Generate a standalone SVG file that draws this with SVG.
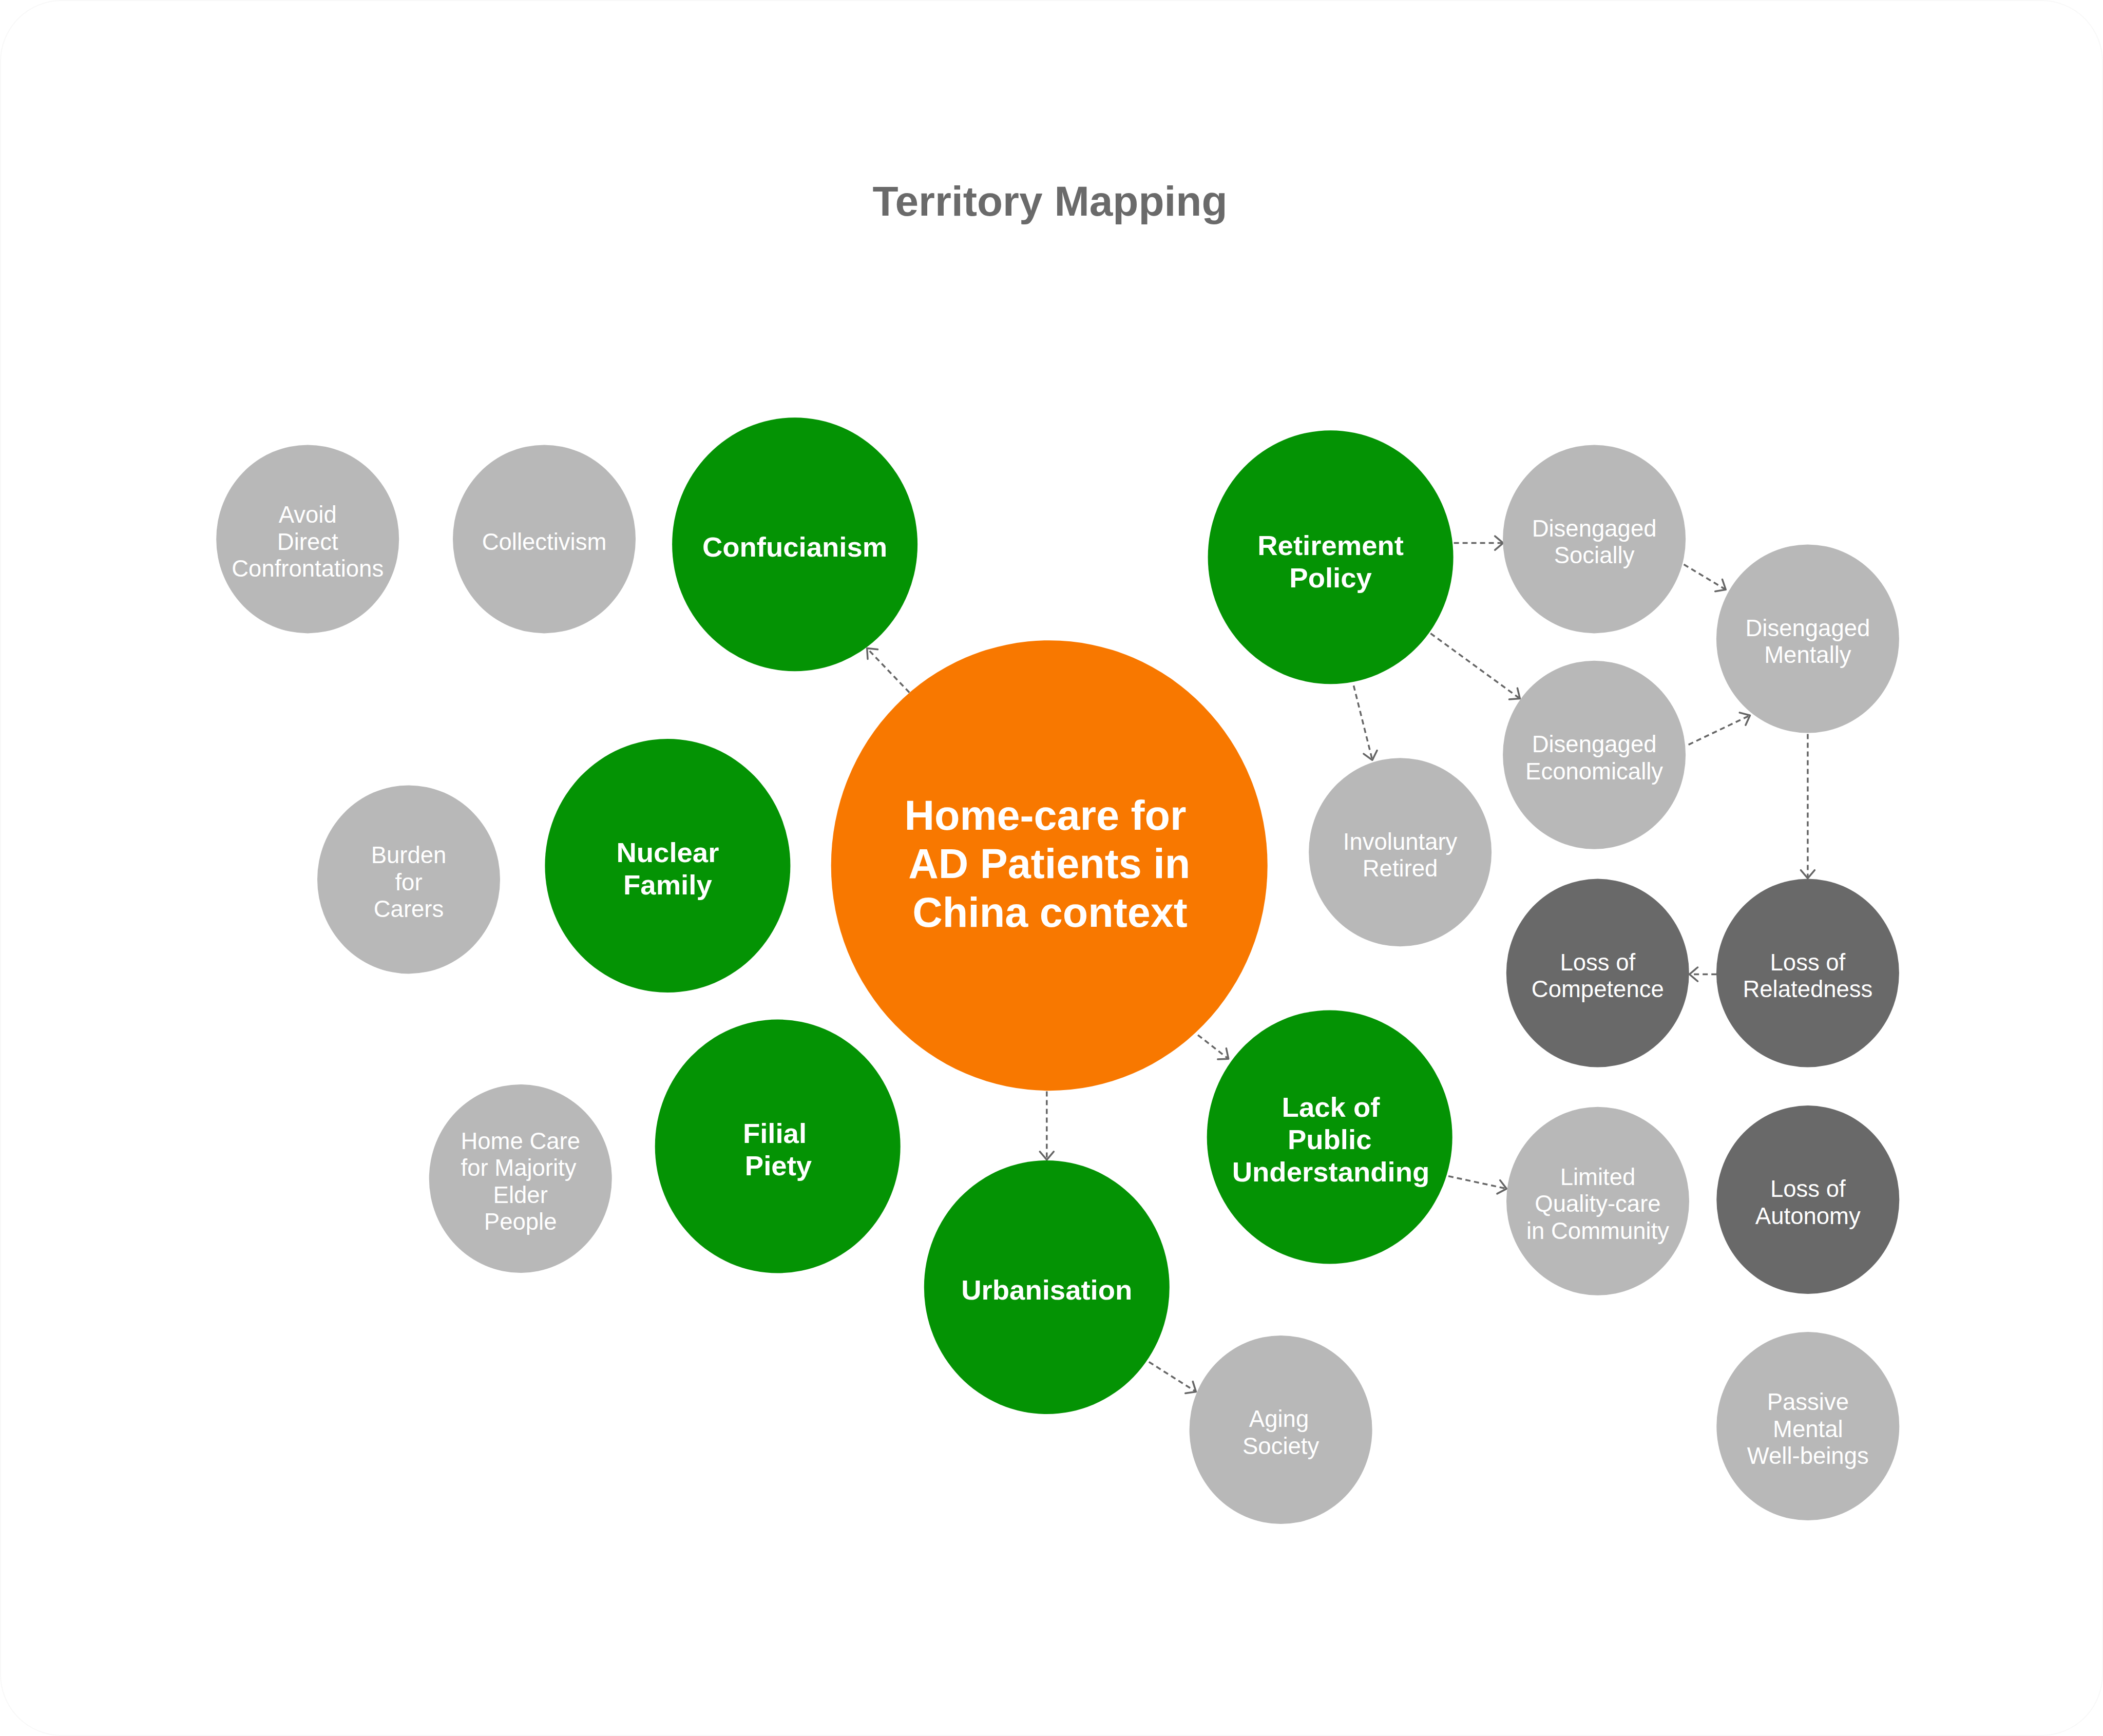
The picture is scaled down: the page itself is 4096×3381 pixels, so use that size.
<svg xmlns="http://www.w3.org/2000/svg" width="4096" height="3381" viewBox="0 0 4096 3381">
<style>
.bg{fill:#ffffff;stroke:#f8f8f8;stroke-width:2}
.title{font-family:"Liberation Sans",Arial,Helvetica,sans-serif;font-weight:bold;font-size:82px;fill:#6a6a6a;text-anchor:middle}
.sm{fill:#b8b8b8}
.dk{fill:#696969}
.gr{fill:#049304}
.or{fill:#f87800}
.ts{font-family:"Liberation Sans",Arial,Helvetica,sans-serif;font-size:45.5px;fill:#ffffff;text-anchor:middle}
.tb{font-family:"Liberation Sans",Arial,Helvetica,sans-serif;font-weight:bold;font-size:54.5px;fill:#ffffff;text-anchor:middle}
.tc{font-family:"Liberation Sans",Arial,Helvetica,sans-serif;font-weight:bold;font-size:81px;fill:#ffffff;text-anchor:middle}
.cn{fill:none;stroke:#666666;stroke-width:3.5;stroke-dasharray:10 7;marker-end:url(#arr)}
</style>
<defs>
<marker id="arr" markerUnits="userSpaceOnUse" markerWidth="40" markerHeight="40" viewBox="-20 -20 40 40" refX="0" refY="0" orient="auto">
<path d="M-16,-13.5 L0,0 L-16,13.5" fill="none" stroke="#666666" stroke-width="3.5" stroke-dasharray="none" stroke-linecap="round" stroke-linejoin="round"/>
</marker>
</defs>
<rect class="bg" x="1" y="1" width="4094" height="3379" rx="119"/>
<text class="title" x="2045" y="420">Territory Mapping</text>

<g id="connectors">
<path class="cn" d="M1771.2,1348.8 L1688.7,1262.6"/>
<path class="cn" d="M2333.1,2015.8 L2392.7,2062.2"/>
<path class="cn" d="M2038.8,2125.5 L2038.8,2258.8"/>
<path class="cn" d="M2831.6,1057.6 L2927.7,1057.6"/>
<path class="cn" d="M2786.3,1233.6 L2960.4,1360.6"/>
<path class="cn" d="M2636.5,1335.2 L2672.9,1480.3"/>
<path class="cn" d="M3279.6,1099.3 L3361.3,1148.3"/>
<path class="cn" d="M3288.7,1450.3 L3408.5,1393.2"/>
<path class="cn" d="M3520.9,1429.5 L3520.9,1710.6"/>
<path class="cn" d="M3343.2,1897.5 L3290.5,1897.5"/>
<path class="cn" d="M2821.0,2290.6 L2934.4,2315.1"/>
<path class="cn" d="M2237.8,2652.5 L2329.5,2710.6"/>
</g>

<g id="avoid-direct-confrontations">
<ellipse class="sm" cx="599.2" cy="1049.9" rx="178" ry="183.5"/>
<text class="ts"><tspan x="599.2" y="1018.4">Avoid</tspan><tspan x="599.2" y="1070.9">Direct</tspan><tspan x="599.2" y="1123.4">Confrontations</tspan></text>
</g>
<g id="collectivism">
<ellipse class="sm" cx="1060" cy="1049.9" rx="178" ry="183.5"/>
<text class="ts" x="1060" y="1070.9">Collectivism</text>
</g>
<g id="confucianism">
<ellipse class="gr" cx="1548.1" cy="1060.3" rx="239" ry="247"/>
<text class="tb" x="1548.1" y="1084">Confucianism</text>
</g>
<g id="nuclear-family">
<ellipse class="gr" cx="1300.4" cy="1686" rx="239" ry="247"/>
<text class="tb"><tspan x="1300.4" y="1679">Nuclear</tspan><tspan x="1300.4" y="1742">Family</tspan></text>
</g>
<g id="burden-for-carers">
<ellipse class="sm" cx="796" cy="1712.9" rx="178" ry="183.5"/>
<text class="ts"><tspan x="796" y="1681.4">Burden</tspan><tspan x="796" y="1733.9">for</tspan><tspan x="796" y="1786.4">Carers</tspan></text>
</g>
<g id="home-care">
<ellipse class="or" cx="2043.7" cy="1685.7" rx="425" ry="438.5"/>
<text class="tc"><tspan x="2036" y="1616">Home-care for</tspan><tspan x="2043.7" y="1710.4">AD Patients in</tspan><tspan x="2045" y="1804.7">China context</tspan></text>
</g>
<g id="retirement-policy">
<ellipse class="gr" cx="2591.6" cy="1085.2" rx="239" ry="247"/>
<text class="tb"><tspan x="2591.6" y="1080.5">Retirement</tspan><tspan x="2591.6" y="1144">Policy</tspan></text>
</g>
<g id="involuntary-retired">
<ellipse class="sm" cx="2727.1" cy="1659.7" rx="178" ry="183.5"/>
<text class="ts"><tspan x="2727.1" y="1654.5">Involuntary</tspan><tspan x="2727.1" y="1707">Retired</tspan></text>
</g>
<g id="disengaged-socially">
<ellipse class="sm" cx="3105.1" cy="1049.9" rx="178" ry="183.5"/>
<text class="ts"><tspan x="3105.1" y="1044.7">Disengaged</tspan><tspan x="3105.1" y="1097.2">Socially</tspan></text>
</g>
<g id="disengaged-mentally">
<ellipse class="sm" cx="3520.9" cy="1244" rx="178" ry="183.5"/>
<text class="ts"><tspan x="3520.9" y="1238.8">Disengaged</tspan><tspan x="3520.9" y="1291.3">Mentally</tspan></text>
</g>
<g id="disengaged-economically">
<ellipse class="sm" cx="3105.1" cy="1470.3" rx="178" ry="183.5"/>
<text class="ts"><tspan x="3105.1" y="1465.1">Disengaged</tspan><tspan x="3105.1" y="1517.6">Economically</tspan></text>
</g>
<g id="loss-of-competence">
<ellipse class="dk" cx="3111.8" cy="1895.1" rx="178" ry="183.5"/>
<text class="ts"><tspan x="3111.8" y="1889.9">Loss of</tspan><tspan x="3111.8" y="1942.4">Competence</tspan></text>
</g>
<g id="loss-of-relatedness">
<ellipse class="dk" cx="3520.9" cy="1895.1" rx="178" ry="183.5"/>
<text class="ts"><tspan x="3520.9" y="1889.9">Loss of</tspan><tspan x="3520.9" y="1942.4">Relatedness</tspan></text>
</g>
<g id="home-care-majority">
<ellipse class="sm" cx="1013.7" cy="2295.5" rx="178" ry="183.5"/>
<text class="ts"><tspan x="1013.7" y="2237.7">Home Care</tspan><tspan x="1010" y="2290.2">for Majority</tspan><tspan x="1013.7" y="2342.7">Elder</tspan><tspan x="1013.7" y="2395.2">People</tspan></text>
</g>
<g id="filial-piety">
<ellipse class="gr" cx="1514.7" cy="2232.5" rx="239" ry="247"/>
<text class="tb"><tspan x="1509" y="2225.5">Filial</tspan><tspan x="1516" y="2288.5">Piety</tspan></text>
</g>
<g id="urbanisation">
<ellipse class="gr" cx="2038.8" cy="2507" rx="239" ry="247"/>
<text class="tb" x="2038.8" y="2531">Urbanisation</text>
</g>
<g id="lack-of-public-understanding">
<ellipse class="gr" cx="2589.7" cy="2214.4" rx="239" ry="247"/>
<text class="tb"><tspan x="2592" y="2175.4">Lack of</tspan><tspan x="2589.7" y="2238.4">Public</tspan><tspan x="2592" y="2301.4">Understanding</tspan></text>
</g>
<g id="limited-quality-care">
<ellipse class="sm" cx="3112" cy="2339.2" rx="178" ry="183.5"/>
<text class="ts"><tspan x="3112" y="2307.7">Limited</tspan><tspan x="3112" y="2360.2">Quality-care</tspan><tspan x="3112" y="2412.7">in Community</tspan></text>
</g>
<g id="aging-society">
<ellipse class="sm" cx="2494.6" cy="2784.5" rx="178" ry="183.5"/>
<text class="ts"><tspan x="2491" y="2779.3">Aging</tspan><tspan x="2494.6" y="2831.8">Society</tspan></text>
</g>
<g id="loss-of-autonomy">
<ellipse class="dk" cx="3521.3" cy="2336.6" rx="178" ry="183.5"/>
<text class="ts"><tspan x="3521.3" y="2331.4">Loss of</tspan><tspan x="3521.3" y="2383.9">Autonomy</tspan></text>
</g>
<g id="passive-mental-well-beings">
<ellipse class="sm" cx="3521.3" cy="2777.6" rx="178" ry="183.5"/>
<text class="ts"><tspan x="3521.3" y="2746.1">Passive</tspan><tspan x="3521.3" y="2798.6">Mental</tspan><tspan x="3521.3" y="2851.1">Well-beings</tspan></text>
</g>
</svg>
